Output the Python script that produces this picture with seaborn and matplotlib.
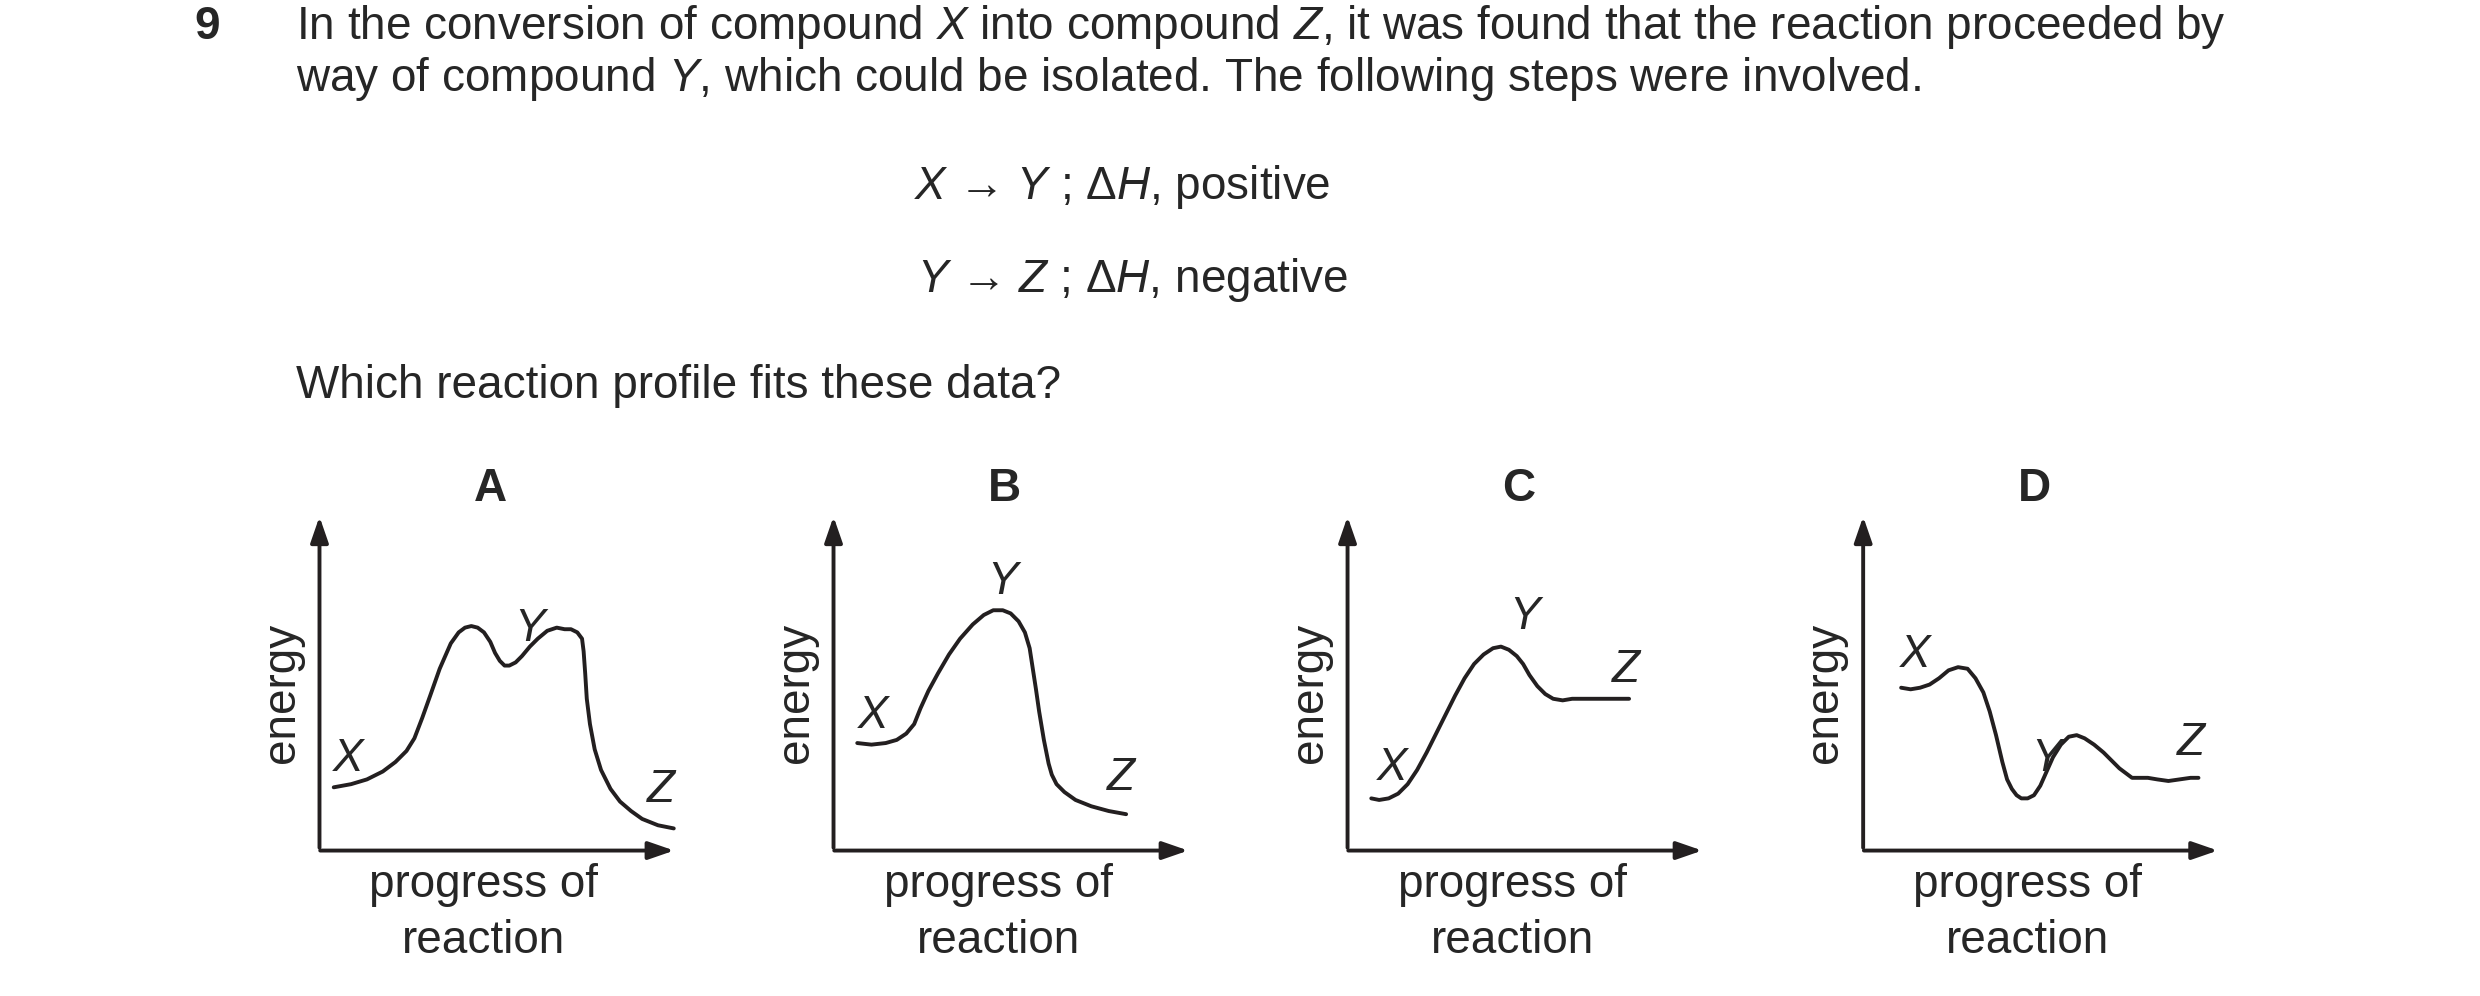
import matplotlib
matplotlib.use('Agg')
import matplotlib.pyplot as plt
import seaborn as sns

sns.set_theme(style='white')
plt.rcParams['font.family'] = ['Liberation Sans', 'DejaVu Sans']
plt.rcParams['mathtext.fontset'] = 'custom'
plt.rcParams['mathtext.rm'] = 'Liberation Sans'
plt.rcParams['mathtext.it'] = 'Liberation Sans:italic'

# profile data (x: progress, y: energy)
panels = ['A', 'B', 'C', 'D']
a_x = [9, 20, 30, 40, 48, 55, 60, 65, 70, 76, 83, 88, 92, 96, 100, 104, 108, 111, 114, 117, 120, 124, 128, 133,
       138, 144, 150, 155, 159, 163, 166, 167, 168, 169, 171, 174, 178, 184, 190, 197, 204, 214, 224]
a_y = [40, 42, 45, 50, 56, 63, 71, 84, 98, 115, 131, 138, 141, 142, 141, 138, 132, 125, 120, 117, 117, 119, 123, 129,
       134, 139, 141, 140, 140, 138, 134, 126, 112, 96, 80, 64, 51, 39, 31, 25, 20, 16, 14]
b_x = [15, 24, 33, 40, 46, 51, 55, 60, 66, 73, 80, 88, 95, 101, 107, 112, 117, 121, 124, 126, 128, 130, 133, 136,
       138, 141, 146, 153, 163, 174, 185]
b_y = [68, 67, 68, 70, 74, 80, 90, 101, 112, 124, 134, 143, 149, 152, 152, 150, 145, 138, 128, 115, 102, 88, 70, 55,
       48, 42, 37, 32, 28, 25, 23]
c_x = [15, 20, 26, 32, 38, 44, 50, 56, 62, 68, 74, 80, 86, 92, 97, 102, 107, 111, 115, 120, 125, 130, 136, 142,
       148, 153, 160, 170, 178]
c_y = [33, 32, 33, 36, 42, 51, 62, 74, 86, 98, 109, 118, 124, 128, 129, 127, 123, 118, 111, 104, 99, 96, 95, 96,
       96, 96, 96, 96, 96]
d_x = [24, 30, 36, 42, 48, 54, 60, 66, 71, 76, 80, 84, 88, 91, 94, 97, 100, 104, 108, 112, 116, 120, 125, 130,
       135, 140, 146, 152, 157, 162, 166, 170, 175, 180, 186, 193, 200, 207, 212]
d_y = [103, 102, 103, 105, 109, 114, 116, 115, 109, 100, 88, 73, 56, 45, 39, 35, 33, 33, 35, 41, 50, 59, 67, 72,
       73, 71, 67, 62, 57, 52, 49, 46, 46, 46, 45, 44, 45, 46, 46]
curves = [(a_x, a_y), (b_x, b_y), (c_x, c_y), (d_x, d_y)]
label_pos = [
    [(18, 58), (133, 140), (216, 38)],
    [(25, 85), (107, 170), (182, 46)],
    [(28, 52), (112, 148), (176, 114)],
    [(33, 124), (116, 58), (207, 68)],
]
origins = [202, 527, 852, 1178]

W, H = 1568, 630
FS = 33
fig = plt.figure(figsize=(24.8, 9.96), dpi=100)


def fx(x):
    return x / W


def fy(y):
    return 1 - y / H


fig.text(fx(131), fy(17), '9', fontsize=FS, fontweight='bold', ha='center', va='center')
fig.text(fx(187), fy(17), 'In the conversion of compound $X$ into compound $Z$, it was found that the reaction proceeded by',
         fontsize=FS, va='center')
fig.text(fx(187), fy(50), 'way of compound $Y$, which could be isolated. The following steps were involved.',
         fontsize=FS, va='center')
fig.text(fx(578), fy(118), '$X$ → $Y$ ; Δ$H$, positive', fontsize=FS, va='center')
fig.text(fx(580), fy(177), '$Y$ → $Z$ ; Δ$H$, negative', fontsize=FS, va='center')
fig.text(fx(187), fy(244), 'Which reaction profile fits these data?', fontsize=FS, va='center')

# 'D' panel sits a bit lower in the reference
for name, (cx, cy), lp, ox in zip(panels, curves, label_pos, origins):
    ax = fig.add_axes([fx(ox), fy(538), 226 / W, 213 / H])
    ax.set_xlim(0, 226)
    ax.set_ylim(0, 213)
    ax.axis('off')
    sns.lineplot(x=cx, y=cy, ax=ax, sort=False, estimator=None, color='#231f20', lw=2.8)
    arrow = dict(arrowstyle='-|>,head_length=1.3,head_width=0.45', color='#231f20', lw=2.8)
    ax.annotate('', xy=(0, 213), xytext=(0, 0), arrowprops=arrow, annotation_clip=False)
    ax.annotate('', xy=(226, 0), xytext=(-1.3, 0), arrowprops=arrow, annotation_clip=False)
    for t, (px, py) in zip(['X', 'Y', 'Z'], lp):
        ax.text(px, py, t, fontsize=FS, fontstyle='italic', ha='center', va='center')
    fig.text(fx(ox + 108), fy(309), name, fontsize=FS, fontweight='bold', ha='center', va='center')
    fig.text(fx(ox - 24), fy(438), 'energy', fontsize=FS, rotation=90, ha='center', va='center')
    fig.text(fx(ox + 104), fy(560), 'progress of', fontsize=FS, ha='center', va='center')
    fig.text(fx(ox + 104), fy(595), 'reaction', fontsize=FS, ha='center', va='center')

fig.savefig('out.png', dpi=100, facecolor='white')
